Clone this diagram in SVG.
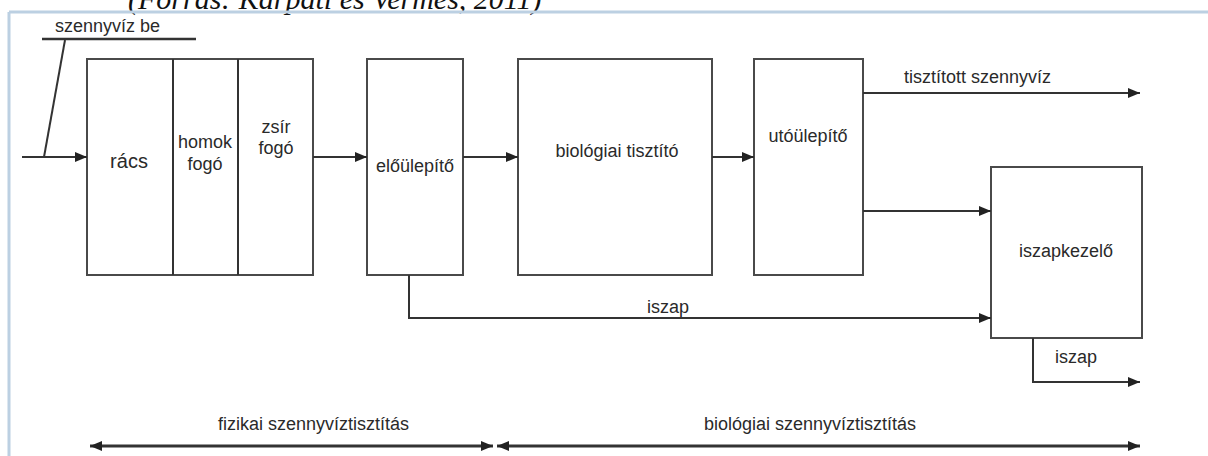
<svg xmlns="http://www.w3.org/2000/svg" width="1208" height="456" viewBox="0 0 1208 456">
<defs>
<style>
.box{fill:#fff;stroke:#4a4a4a;stroke-width:2}
.ln{fill:none;stroke:#333;stroke-width:2}
.t{font-family:"Liberation Sans",Arial,sans-serif;font-size:18px;fill:#2a2a2a}
.c{text-anchor:middle}
</style>
<marker id="ah" viewBox="0 0 10 10" refX="10" refY="5" markerWidth="12" markerHeight="10" orient="auto-start-reverse" markerUnits="userSpaceOnUse" preserveAspectRatio="none">
<path d="M0,0 L10,5 L0,10 z" fill="#222"/>
</marker>
</defs>
<rect width="1208" height="456" fill="#fff"/>
<text x="128" y="9" font-family="Liberation Serif,serif" font-style="italic" font-size="30" fill="#111">(Forrás: Karpati és Vermes, 2011)</text>
<line x1="9" y1="12" x2="1208" y2="12" stroke="#bcd0e2" stroke-width="3"/>
<line x1="9" y1="12" x2="9" y2="456" stroke="#bcd0e2" stroke-width="3"/>

<g id="input">
<text class="t" x="55" y="32">szennyvíz be</text>
<line class="ln" x1="42" y1="39" x2="196" y2="39" style="stroke-width:2.5"/>
</g>
<g id="elotisztito">
<rect class="box" x="87" y="59" width="226" height="216"/>
<line class="ln" x1="173" y1="59" x2="173" y2="275"/>
<line class="ln" x1="238" y1="59" x2="238" y2="275"/>
<text class="t c" x="129" y="168" style="font-size:20px">rács</text>
<text class="t c" x="205" y="148">homok</text>
<text class="t c" x="205" y="170">fogó</text>
<text class="t c" x="276" y="133">zsír</text>
<text class="t c" x="276" y="154">fogó</text>
</g>
<g id="eloulepito">
<rect class="box" x="367" y="59" width="96" height="216"/>
<text class="t c" x="415" y="172">előülepítő</text>
</g>
<g id="biologiai">
<rect class="box" x="518" y="59" width="194" height="216"/>
<text class="t c" x="617" y="157">biológiai tisztító</text>
</g>
<g id="utoulepito">
<rect class="box" x="754" y="59" width="109" height="216"/>
<text class="t c" x="808" y="142">utóülepítő</text>
</g>
<g id="iszapkezelo">
<rect class="box" x="991" y="167" width="151" height="171"/>
<text class="t c" x="1066" y="257">iszapkezelő</text>
</g>

<g id="connectors">
<polyline class="ln" points="65,40 44,157"/>
<line class="ln" x1="22" y1="157" x2="87" y2="157" marker-end="url(#ah)"/>
<line class="ln" x1="313" y1="157" x2="367" y2="157" marker-end="url(#ah)"/>
<line class="ln" x1="463" y1="157" x2="518" y2="157" marker-end="url(#ah)"/>
<line class="ln" x1="712" y1="157" x2="754" y2="157" marker-end="url(#ah)"/>
<line class="ln" x1="863" y1="93" x2="1140" y2="93" marker-end="url(#ah)"/>
<text class="t" x="904" y="83">tisztított szennyvíz</text>
<line class="ln" x1="863" y1="211" x2="991" y2="211" marker-end="url(#ah)"/>
<polyline class="ln" points="409,275 409,318 991,318" marker-end="url(#ah)"/>
<text class="t" x="647" y="313">iszap</text>
<polyline class="ln" points="1033,338 1033,382 1140,382" marker-end="url(#ah)"/>
<text class="t" x="1055" y="363">iszap</text>
<line class="ln" x1="90" y1="446" x2="493" y2="446" marker-start="url(#ah)" marker-end="url(#ah)" style="stroke-width:3"/>
<line class="ln" x1="497" y1="446" x2="1140" y2="446" marker-start="url(#ah)" marker-end="url(#ah)" style="stroke-width:3"/>
<text class="t" x="218" y="430">fizikai szennyvíztisztítás</text>
<text class="t c" x="810" y="430">biológiai szennyvíztisztítás</text>
</g>
</svg>
